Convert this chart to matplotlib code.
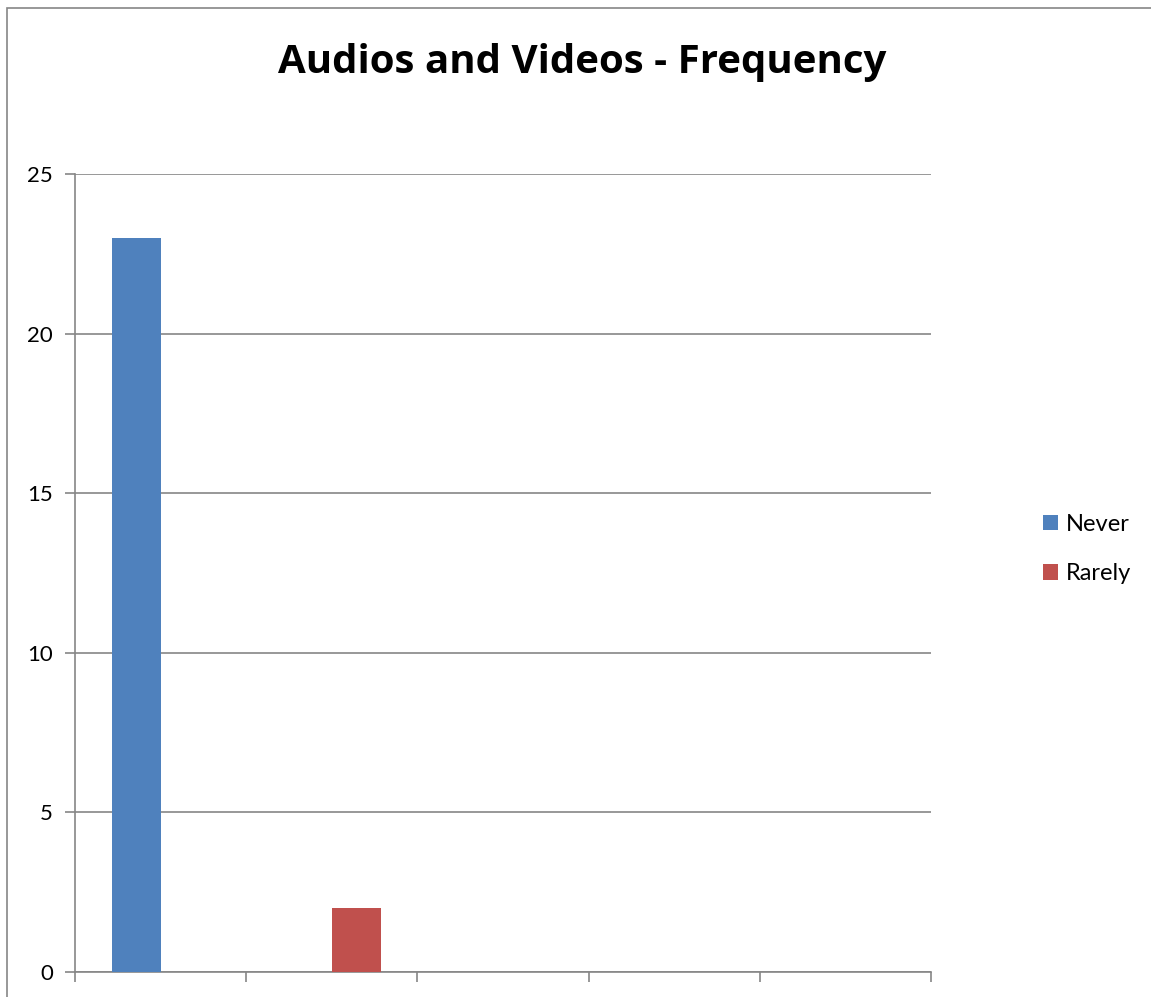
import numpy as np
import matplotlib

matplotlib.use("Agg")
import matplotlib.pyplot as plt
from matplotlib.patches import Rectangle

plt.rcParams["font.family"] = ["Lato", "DejaVu Sans"]

# ---------- data ----------
categories = ["", "", "", "", ""]
never = [23, 0, 0, 0, 0]
rarely = [0, 2, 0, 0, 0]
series_names = ["Never", "Rarely"]
series_colors = ["#4F81BD", "#C0504D"]
y_ticks = [0, 5, 10, 15, 20, 25]

grey = "#868686"

fig = plt.figure(figsize=(11.51, 9.97), dpi=100)

# chart frame
fig.patches.append(Rectangle((7 / 1151, -0.1), 1.2, (997 - 8) / 997 + 0.1,
                             transform=fig.transFigure, fill=False,
                             edgecolor=grey, linewidth=1.2))

ax = fig.add_axes([75 / 1151, 25 / 997, 856 / 1151, 798 / 997])

x = np.arange(len(categories))
w = 1 / 3.5
ax.bar(x - w / 2, never, width=w, color=series_colors[0], label=series_names[0], zorder=3)
ax.bar(x + w / 2, rarely, width=w, color=series_colors[1], label=series_names[1], zorder=3)

ax.set_xlim(-0.5, len(categories) - 0.5)
ax.set_ylim(0, 25)
ax.set_yticks(y_ticks)
ax.set_xticks(np.arange(len(categories) + 1) - 0.5)
ax.set_xticklabels([])
ax.tick_params(axis="y", length=7, color=grey, width=1.2, labelsize=16, pad=9)
ax.tick_params(axis="x", length=7, color=grey, width=1.2)
ax.yaxis.grid(True, color=grey, linewidth=1.2, zorder=0)

for side in ["top", "right"]:
    ax.spines[side].set_visible(False)
for side in ["left", "bottom"]:
    ax.spines[side].set_color(grey)
    ax.spines[side].set_linewidth(1.2)

fig.text(582 / 1151, 1 - 62 / 997, "Audios and Videos - Frequency",
         ha="center", va="center", fontsize=29, fontweight="bold",
         family=["Open Sans", "DejaVu Sans"])

ax.legend(loc="center left", bbox_to_anchor=(1043 / 1151, 1 - 549 / 997),
          bbox_transform=fig.transFigure, frameon=False, fontsize=17,
          handlelength=0.65, handleheight=0.65, handletextpad=0.3,
          labelspacing=1.2, borderaxespad=0, borderpad=0)

fig.savefig("out.png", dpi=100)
